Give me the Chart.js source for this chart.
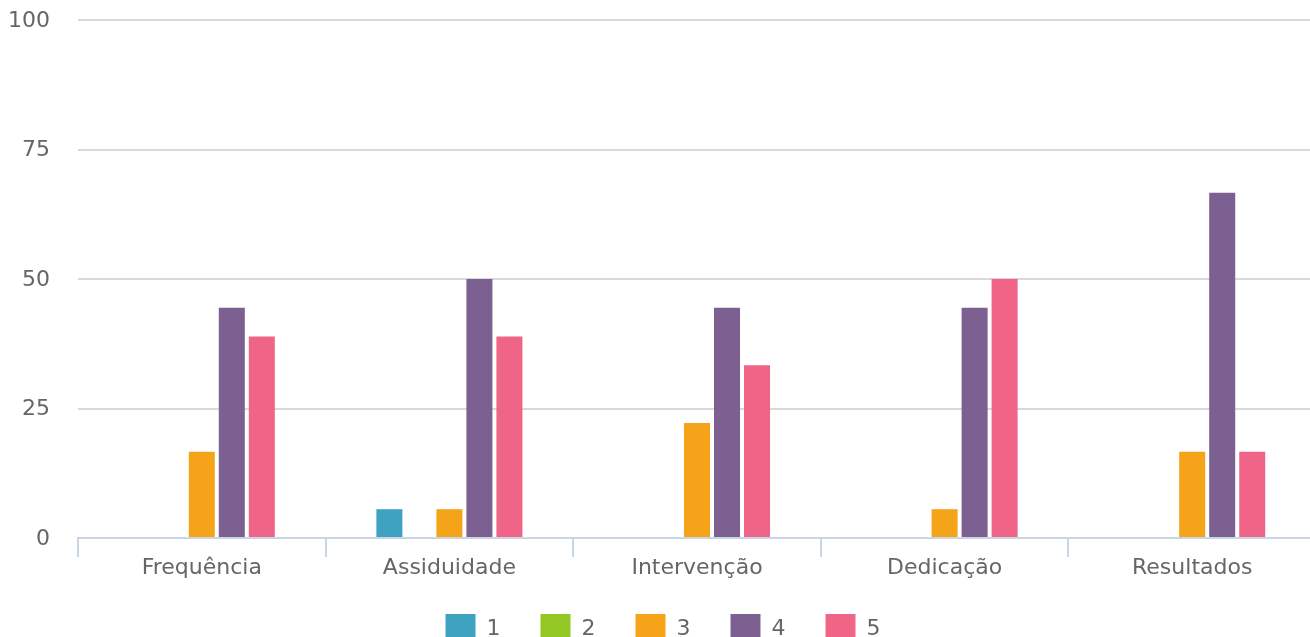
<!DOCTYPE html>
<html>
<head>
<meta charset="utf-8">
<script src="https://cdn.jsdelivr.net/npm/chart.js@4/dist/chart.umd.min.js"></script>
<style>
  html, body { margin: 0; padding: 0; background: #fff; overflow: hidden; }
  #wrap { width: 1316px; height: 654px; }
</style>
</head>
<body>
<div id="wrap"><canvas id="myChart" width="1316" height="654"></canvas></div>
<script>
const categories = ["Frequência", "Assiduidade", "Intervenção", "Dedicação", "Resultados"];
const seriesNames = ["1", "2", "3", "4", "5"];
const nota1 = [0, 5.56, 0, 0, 0];
const nota2 = [0, 0, 0, 0, 0];
const nota3 = [16.67, 5.56, 22.22, 5.56, 16.67];
const nota4 = [44.44, 50, 44.44, 44.44, 66.67];
const nota5 = [38.89, 38.89, 33.33, 50, 16.67];
const yTicks = [0, 25, 50, 75, 100];
const colors = ["#3fa2c1", "#93c824", "#f5a41a", "#7c6092", "#f06487"];

// x labels hang below the shortened axis box, so widen the clip after layout
const labelRoom = {
    id: "labelRoom",
    afterLayout(chart) { chart.scales.x.bottom = chart.height; }
};

window.onload = draw;
function draw() {
    const values = [nota1, nota2, nota3, nota4, nota5];
    const font = { family: "'DejaVu Sans', Verdana, sans-serif", size: 22 };
    const axisBlue = "#c9d6e6";
    new Chart(document.getElementById("myChart"), {
        type: "bar",
        data: {
            labels: categories,
            datasets: seriesNames.map((n, i) => ({
                label: n,
                data: values[i],
                backgroundColor: colors[i],
                borderWidth: 0,
                categoryPercentage: 0.606,
                barPercentage: 0.867
            }))
        },
        plugins: [labelRoom],
        options: {
            responsive: false,
            animation: false,
            layout: { padding: { top: 20, left: 10, right: 0, bottom: 0 } },
            plugins: {
                tooltip: { enabled: false },
                legend: {
                    position: "bottom",
                    labels: {
                        boxWidth: 30,
                        boxHeight: 30,
                        padding: 40,
                        color: "#666",
                        font: font
                    }
                }
            },
            scales: {
                x: {
                    afterFit: s => { s.height = 36; },
                    border: { display: true, color: axisBlue, width: 2 },
                    grid: {
                        offset: true,
                        drawOnChartArea: false,
                        drawTicks: true,
                        tickLength: 19,
                        color: axisBlue,
                        lineWidth: 2
                    },
                    ticks: { color: "#666", font: font, padding: -2 }
                },
                y: {
                    min: 0,
                    max: 100,
                    afterBuildTicks: s => { s.ticks = yTicks.map(v => ({ value: v })); },
                    afterFit: s => { s.width = 68; s.paddingTop = 12; s.paddingBottom = 12; },
                    border: { display: false },
                    grid: { color: "#d9d9d9", lineWidth: 2, drawTicks: false },
                    ticks: { color: "#666", font: font, padding: 28, labelOffset: 1 }
                }
            }
        }
    });
}
</script>
</body>
</html>
